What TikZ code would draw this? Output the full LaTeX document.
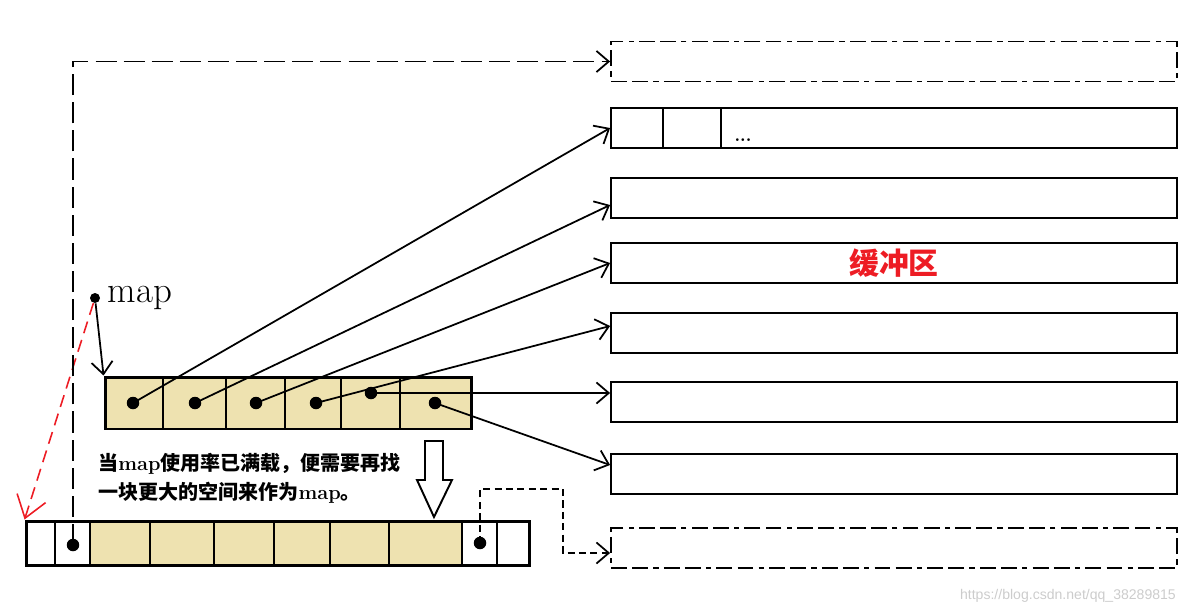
\documentclass[tikz,border=0pt]{standalone}
\usepackage{fontspec}
\newfontfamily\cjk{Noto Sans CJK SC}
\newfontfamily\wmfont{Liberation Sans}
\usetikzlibrary{arrows.meta,positioning,calc}
\definecolor{mapfill}{RGB}{238,226,176}
\definecolor{bufred}{RGB}{237,28,36}
\tikzset{
  buf/.style={draw,line width=1.1pt,minimum width=11.32cm,minimum height=0.8cm,inner sep=0pt},
  bufspare/.style={buf,dash pattern=on 9pt off 3pt on 9pt off 3pt on 3pt off 3pt},
  slot/.style={circle,fill=black,inner sep=0pt,minimum size=0.25cm},
  ptr/.style={line width=1pt,-{Straight Barb[length=7pt,width=12pt]}},
  longdash/.style={dash pattern=on 12pt off 4pt},
  shortdash/.style={dash pattern=on 4pt off 2.5pt},
  redptr/.style={bufred,line width=0.9pt,dash pattern=on 7pt off 4pt,-{Straight Barb[length=12pt,width=17pt]}}
}
\begin{document}
\begin{tikzpicture}[x=0.02cm,y=-0.02cm]
\useasboundingbox (0,0) rectangle (1203,613);
% buffers
\node[bufspare] (b1) at (894,61.5) {};
\foreach \n/\y in {2/128,3/198,5/333,6/402,7/474}
  \node[buf] (b\n) at (894,\y) {};
\node[buf,text=bufred,font=\fontsize{17}{20}\selectfont\cjk\bfseries] (b4) at (894,263) {缓冲区};
\node[bufspare] (b8) at (894,548) {};
\foreach \x in {663,721} \draw[line width=1.1pt] (\x,108) -- (\x,148);
\node[anchor=base,font=\fontsize{10}{10}\selectfont\bfseries] (more) at (743,141) {...};

% the map
\node[draw,fill=mapfill,line width=1.7pt,minimum width=7.34cm,minimum height=1.04cm,inner sep=0pt] (maparr) at (288.5,403) {};
\foreach \x in {163,226,285,341,400} \draw[line width=1.1pt] (\x,377) -- (\x,429);
\node[slot] (d1) at (133,403) {};
\node[slot] (d2) at (195,403) {};
\node[slot] (d3) at (256,403) {};
\node[slot] (d4) at (316,403) {};
\node[slot] (d5) at (371,393) {};
\node[slot] (d6) at (435,403) {};
\draw[ptr] (d1.center) -- (b2.west);
\draw[ptr] (d2.center) -- ($(b3.west)+(0,7)$);
\draw[ptr] (d3.center) -- (b4.west);
\draw[ptr] (d4.center) -- ($(b5.west)+(0,-7)$);
\draw[ptr] (d5.center) -- (d5.center -| b6.west);
\draw[ptr] (d6.center) -- ($(b7.west)+(0,-9)$);

\node[slot,minimum size=0.2cm] (mapptr) at (95,298) {};
\node[right=3pt of mapptr,inner sep=1pt,font=\fontsize{21}{21}\selectfont] (maplbl) {map};

% new, larger map
\fill[mapfill] (90,521) rectangle (462,565);
\foreach \x in {55,90,150,214,274,330,389,462,497} \draw[line width=1.1pt] (\x,521) -- (\x,565);
\node[draw,line width=1.7pt,minimum width=10.08cm,minimum height=0.88cm,inner sep=0pt] (newarr) at (278,543) {};
\node[slot] (nd1) at (73,545) {};
\node[slot] (nd2) at (480,543) {};

\draw[ptr] (mapptr) -- (maparr.north west);
\draw[redptr] (mapptr) -- (newarr.north west);
\draw[ptr,longdash] (nd1.center) |- (b1.west);
\coordinate (turn) at (563,489);
\draw[ptr,shortdash] (nd2.center) |- (turn) |- ($(b8.west)+(0,5)$);

% grow arrow
\draw[line width=1.1pt,fill=white] (425,441) -- (443,441) -- (443,480) -- (452,480) -- (434,517) -- (417,480) -- (425,480) -- cycle;

\node[anchor=west,align=left,inner sep=0pt,font=\fontsize{11.4}{16.6}\selectfont\bfseries] (note) at (98,478)
  {{\cjk 当}map{\cjk 使用率已满载，便需要再找}\\{\cjk 一块更大的空间来作为}map{\cjk 。}};

\node[anchor=east,text=gray!40,font=\fontsize{8}{10}\selectfont\wmfont] (wm) at (1182,596) {https://blog.csdn.net/qq\_38289815};
\end{tikzpicture}
\end{document}
